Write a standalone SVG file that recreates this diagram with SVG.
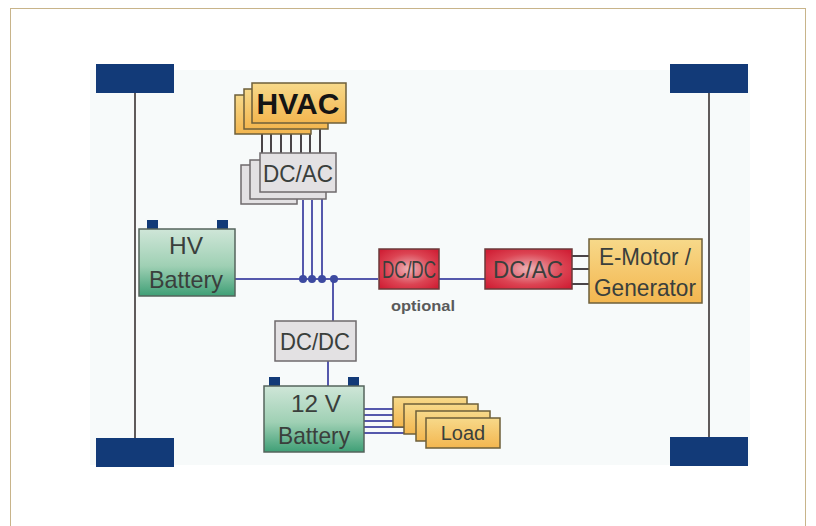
<svg xmlns="http://www.w3.org/2000/svg" width="816" height="526" viewBox="0 0 816 526">
<defs>
<linearGradient id="green" x1="0" y1="0" x2="0" y2="1"><stop offset="0" stop-color="#cfe6d8"/><stop offset="0.55" stop-color="#9fd0b4"/><stop offset="1" stop-color="#3f9f76"/></linearGradient>
<linearGradient id="orange" x1="0" y1="0" x2="0" y2="1"><stop offset="0" stop-color="#f7d98a"/><stop offset="1" stop-color="#f3b64f"/></linearGradient>
<radialGradient id="red" cx="0.5" cy="0.5" r="0.65"><stop offset="0" stop-color="#ecb4b8"/><stop offset="0.6" stop-color="#dc4453"/><stop offset="1" stop-color="#d01f35"/></radialGradient>
</defs>
<style>
text{font-family:"Liberation Sans",Arial,sans-serif;text-anchor:middle}
.wheel{fill:#123a78}
.axle{stroke:#5f5a5a;stroke-width:2;fill:none}
.term{fill:#123a78}
.bat{fill:url(#green);stroke:#55645c;stroke-width:1.5}
.or{fill:url(#orange);stroke:#6e5f3a;stroke-width:1.5}
.gr{fill:#e3e1e3;stroke:#6f6a6c;stroke-width:1.5}
.rd{fill:url(#red);stroke:#6b3a3a;stroke-width:1.5}
.t{fill:#3a3f3c;font-size:24px}
.blue{stroke:#5558ac;stroke-width:2;fill:none}
.dark{stroke:#4a4548;stroke-width:2;fill:none}
.dot{fill:#3d4aa0}
</style>
<rect x="0" y="0" width="816" height="526" fill="#fff"/>
<rect x="10.500" y="8.500" width="795" height="520" fill="#fff" stroke="#c8b48a" stroke-width="1"/>
<rect x="90" y="70" width="660" height="395" fill="#f7fafa"/>
<g id="axles">
<path class="axle" d="M135 90V440M709 90V440"/>
</g>
<g id="wheels">
<rect class="wheel" x="96" y="64" width="78" height="29"/>
<rect class="wheel" x="670" y="64" width="78" height="29"/>
<rect class="wheel" x="96" y="438" width="78" height="29"/>
<rect class="wheel" x="670" y="437" width="78" height="29"/>
</g>
<g id="connectors">
<path class="blue" d="M235 279H378M432 279H485"/>
<path class="blue" d="M303 200V279M312 200V279M322 195V279M333 279V327M328 361V386"/>
<path class="dark" d="M262 130V154M271 130V154M281 125V154M291 130V154M301 125V154M310 130V154M320 125V154"/>
<path class="dark" d="M562 256H590M562 269H590M562 284H590"/>
<path class="blue" d="M364 409H400M364 415H412M364 421H424M364 427H412M364 433H428"/>
<circle class="dot" cx="303" cy="279" r="4"/>
<circle class="dot" cx="312" cy="279" r="4"/>
<circle class="dot" cx="322" cy="279" r="4"/>
<circle class="dot" cx="334" cy="279" r="4"/>
</g>
<g id="hvac">
<rect class="or" x="235" y="95" width="76" height="39"/>
<rect class="or" x="244" y="89" width="84" height="40"/>
<rect class="or" x="252" y="83" width="94" height="40"/>
<text x="298" y="114" font-size="30" font-weight="bold" fill="#141414">HVAC</text>
</g>
<g id="dcac-stack">
<rect class="gr" x="241" y="165" width="56" height="39"/>
<rect class="gr" x="250" y="160" width="76" height="39"/>
<rect class="gr" x="260" y="153" width="76" height="39"/>
<text class="t" x="298" y="182" textLength="70" lengthAdjust="spacingAndGlyphs">DC/AC</text>
</g>
<g id="hv-battery">
<rect class="term" x="147" y="220" width="11" height="9"/>
<rect class="term" x="217" y="220" width="11" height="9"/>
<rect class="bat" x="139" y="229" width="96" height="67"/>
<text class="t" x="186" y="254" textLength="34" lengthAdjust="spacingAndGlyphs">HV</text>
<text class="t" x="186" y="288" textLength="74" lengthAdjust="spacingAndGlyphs">Battery</text>
</g>
<g id="dcdc-optional">
<rect class="rd" x="379" y="249" width="60" height="40"/>
<text class="t" x="409" y="278" textLength="54" lengthAdjust="spacingAndGlyphs">DC/DC</text>
<text x="423" y="311" font-size="15" font-weight="bold" fill="#5a5a5a" textLength="64" lengthAdjust="spacingAndGlyphs">optional</text>
</g>
<g id="dcac-motor">
<rect class="rd" x="485" y="249" width="87" height="40"/>
<text class="t" x="528" y="278" textLength="70" lengthAdjust="spacingAndGlyphs">DC/AC</text>
</g>
<g id="motor">
<rect class="or" x="589" y="239" width="113" height="64"/>
<text class="t" x="645" y="265" textLength="92" lengthAdjust="spacingAndGlyphs">E-Motor /</text>
<text class="t" x="645" y="296" textLength="102" lengthAdjust="spacingAndGlyphs">Generator</text>
</g>
<g id="dcdc-12v">
<rect class="gr" x="275" y="321" width="81" height="40"/>
<text class="t" x="315" y="350" textLength="70" lengthAdjust="spacingAndGlyphs">DC/DC</text>
</g>
<g id="battery-12v">
<rect class="term" x="269" y="377" width="11" height="9"/>
<rect class="term" x="348" y="377" width="11" height="9"/>
<rect class="bat" x="264" y="386" width="100" height="66"/>
<text class="t" x="316" y="412" textLength="50" lengthAdjust="spacingAndGlyphs">12 V</text>
<text class="t" x="314" y="444" textLength="72" lengthAdjust="spacingAndGlyphs">Battery</text>
</g>
<g id="loads">
<rect class="or" x="393" y="397" width="74" height="30"/>
<rect class="or" x="404" y="404" width="74" height="30"/>
<rect class="or" x="416" y="411" width="74" height="30"/>
<rect class="or" x="426" y="418" width="74" height="30"/>
<text x="463" y="440" font-size="20" fill="#3a3f3c">Load</text>
</g>
</svg>
